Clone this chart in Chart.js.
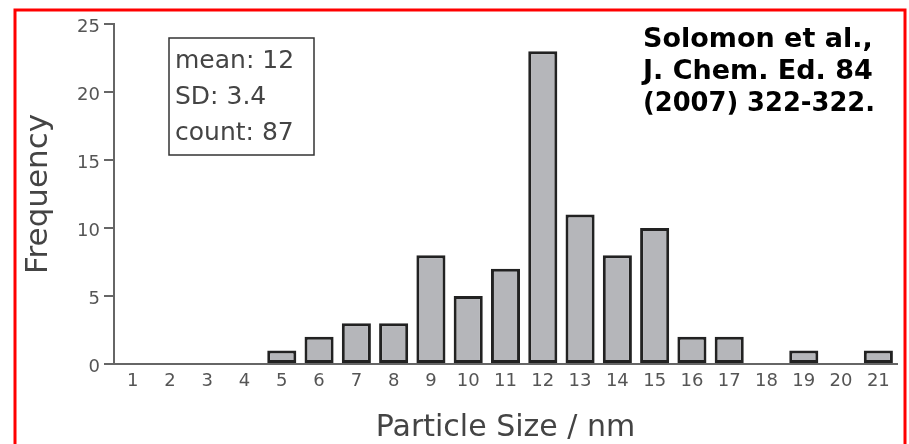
<!DOCTYPE html>
<html>
<head>
<meta charset="utf-8">
<script src="https://cdn.jsdelivr.net/npm/chart.js@4/dist/chart.umd.min.js"></script>
<style>
	html, body { margin: 0; padding: 0; background: #fff; }
	canvas { display: block; }
</style>
</head>
<body>
<canvas id="chart" width="909" height="444"></canvas>
<script>
const sizes = ["1", "2", "3", "4", "5", "6", "7", "8", "9", "10", "11", "12", "13", "14", "15", "16", "17", "18", "19", "20", "21"];
const frequency = [0, 0, 0, 0, 1, 2, 3, 3, 8, 5, 7, 23, 11, 8, 10, 2, 2, 0, 1, 0, 1];
const yTicks = [0, 5, 10, 15, 20, 25];
const statsLines = ["mean: 12", "SD: 3.4", "count: 87"];
const citationLines = ["Solomon et al.,", "J. Chem. Ed. 84", "(2007) 322-322."];

const FONT = "'DejaVu Sans', 'Liberation Sans', sans-serif";
const AXIS_GREY = "#666";

// red frame, stats box and the citation, drawn on top of the chart
const extras = {
	id: "extras",
	afterDraw(chart) {
		const ctx = chart.ctx;
		ctx.save();

		ctx.strokeStyle = "#ff0000";
		ctx.lineWidth = 3;
		ctx.strokeRect(15, 10, 890, 500);

		ctx.strokeStyle = "#333";
		ctx.lineWidth = 1.5;
		ctx.strokeRect(169, 38, 145, 117);

		ctx.fillStyle = "#444";
		ctx.font = "25px " + FONT;
		ctx.textBaseline = "alphabetic";
		statsLines.forEach((line, i) => ctx.fillText(line, 175, 68 + i * 36));

		ctx.fillStyle = "#000";
		ctx.font = "bold 27px " + FONT;
		citationLines.forEach((line, i) => ctx.fillText(line, 643, 47 + i * 32, 232));

		ctx.restore();
	}
};

const options = {};
options.responsive = false;
options.animation = false;
options.devicePixelRatio = 1;
options.layout = { padding: { left: 0, top: 24, right: 12, bottom: 0 } };
options.plugins = { legend: { display: false }, tooltip: { enabled: false } };

options.scales = {};
options.scales.x = {
	grid: { display: false, drawTicks: false },
	border: { display: true, color: AXIS_GREY, width: 2 },
	ticks: { color: "#555", padding: 7, font: { family: FONT, size: 18 } },
	title: {
		display: true,
		text: "Particle Size / nm",
		color: "#444",
		padding: { top: 0, bottom: 0 },
		font: { family: FONT, size: 30, lineHeight: 1.05 }
	},
	afterFit: scale => { scale.height = 80; }
};
options.scales.y = {
	min: 0,
	max: 25,
	afterBuildTicks: scale => { scale.ticks = yTicks.map(v => ({ value: v })); },
	grid: { display: true, drawOnChartArea: false, drawTicks: true, tickLength: 10, color: AXIS_GREY, lineWidth: 2 },
	border: { display: true, color: AXIS_GREY, width: 2 },
	ticks: { color: "#555", padding: 4, labelOffset: 3, font: { family: FONT, size: 18 } },
	title: {
		display: true,
		text: "Frequency",
		color: "#444",
		padding: { top: 20, bottom: 0 },
		font: { family: FONT, size: 31, lineHeight: 1.2 }
	},
	afterFit: scale => { scale.width = 114; }
};

new Chart(document.getElementById("chart"), {
	type: "bar",
	data: {
		labels: sizes,
		datasets: [{
			data: frequency,
			backgroundColor: "#b5b6ba",
			borderColor: "#222",
			borderWidth: 3,
			borderSkipped: false,
			barPercentage: 0.78,
			categoryPercentage: 1
		}]
	},
	options: options,
	plugins: [extras]
});
</script>
</body>
</html>
